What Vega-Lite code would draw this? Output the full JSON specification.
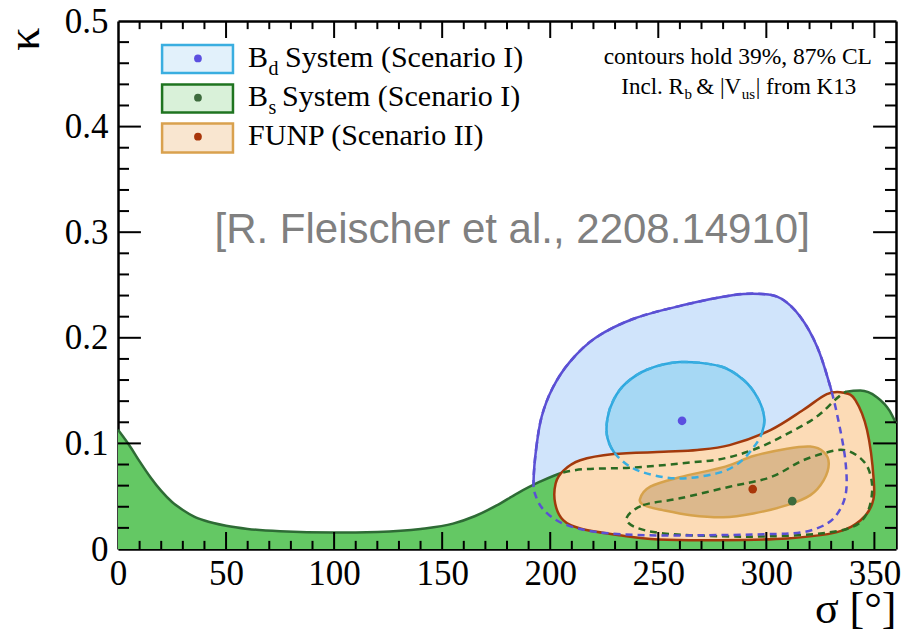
{
  "$schema": "https://vega.github.io/schema/vega-lite/v6.json",
  "width": 778,
  "height": 528,
  "autosize": "none",
  "padding": {"left": 118, "top": 21, "right": 11, "bottom": 85},
  "background": "white",
  "config": {
    "view": {"stroke": null},
    "axis": {"grid": false, "domain": false, "ticks": false, "zindex": 2,
      "labelFont": "Liberation Serif", "labelFontSize": 35, "labelColor": "black",
      "titleFont": "Liberation Serif", "titleFontWeight": "normal", "titleColor": "black",
      "labelFlush": false, "labelOverlap": false}
  },
  "datasets": {
    "contours": [
      {"c": "bo", "o": 1, "s": 192.3, "k": 0.065}, {"c": "bo", "o": 2, "s": 193.5, "k": 0.095},
      {"c": "bo", "o": 3, "s": 196, "k": 0.125}, {"c": "bo", "o": 4, "s": 201, "k": 0.152},
      {"c": "bo", "o": 5, "s": 209, "k": 0.177}, {"c": "bo", "o": 6, "s": 221, "k": 0.2},
      {"c": "bo", "o": 7, "s": 238.6, "k": 0.218}, {"c": "bo", "o": 8, "s": 261.7, "k": 0.231},
      {"c": "bo", "o": 9, "s": 284.9, "k": 0.2405}, {"c": "bo", "o": 10, "s": 298, "k": 0.2415},
      {"c": "bo", "o": 11, "s": 307, "k": 0.237}, {"c": "bo", "o": 12, "s": 315.7, "k": 0.22},
      {"c": "bo", "o": 13, "s": 323.5, "k": 0.1916}, {"c": "bo", "o": 14, "s": 329.6, "k": 0.1537},
      {"c": "bo", "o": 15, "s": 333.5, "k": 0.12}, {"c": "bo", "o": 16, "s": 336.5, "k": 0.085},
      {"c": "bo", "o": 17, "s": 337, "k": 0.056}, {"c": "bo", "o": 18, "s": 334, "k": 0.037},
      {"c": "bo", "o": 19, "s": 328, "k": 0.024}, {"c": "bo", "o": 20, "s": 317, "k": 0.016},
      {"c": "bo", "o": 21, "s": 300, "k": 0.014}, {"c": "bo", "o": 22, "s": 270, "k": 0.013},
      {"c": "bo", "o": 23, "s": 245, "k": 0.013}, {"c": "bo", "o": 24, "s": 221.6, "k": 0.016},
      {"c": "bo", "o": 25, "s": 206, "k": 0.024}, {"c": "bo", "o": 26, "s": 197, "k": 0.037},
      {"c": "bo", "o": 27, "s": 193, "k": 0.052},
      {"c": "bi", "o": 1, "s": 260, "k": 0.177}, {"c": "bi", "o": 2, "s": 278.7, "k": 0.173},
      {"c": "bi", "o": 3, "s": 289.5, "k": 0.16}, {"c": "bi", "o": 4, "s": 296, "k": 0.143},
      {"c": "bi", "o": 5, "s": 299, "k": 0.125}, {"c": "bi", "o": 6, "s": 298, "k": 0.11},
      {"c": "bi", "o": 7, "s": 294, "k": 0.096}, {"c": "bi", "o": 8, "s": 287, "k": 0.081},
      {"c": "bi", "o": 9, "s": 277, "k": 0.0716}, {"c": "bi", "o": 10, "s": 258.6, "k": 0.0668},
      {"c": "bi", "o": 11, "s": 241, "k": 0.074}, {"c": "bi", "o": 12, "s": 231, "k": 0.088},
      {"c": "bi", "o": 13, "s": 226.5, "k": 0.105}, {"c": "bi", "o": 14, "s": 226.5, "k": 0.124},
      {"c": "bi", "o": 15, "s": 229.5, "k": 0.142}, {"c": "bi", "o": 16, "s": 235, "k": 0.157},
      {"c": "bi", "o": 17, "s": 245, "k": 0.17},
      {"c": "oo", "o": 1, "s": 202.5, "k": 0.062}, {"c": "oo", "o": 2, "s": 206, "k": 0.074},
      {"c": "oo", "o": 3, "s": 213.9, "k": 0.084}, {"c": "oo", "o": 4, "s": 229.3, "k": 0.0899},
      {"c": "oo", "o": 5, "s": 252.5, "k": 0.092}, {"c": "oo", "o": 6, "s": 268, "k": 0.0937},
      {"c": "oo", "o": 7, "s": 283, "k": 0.0984}, {"c": "oo", "o": 8, "s": 301.9, "k": 0.1126},
      {"c": "oo", "o": 9, "s": 317, "k": 0.1316}, {"c": "oo", "o": 10, "s": 328, "k": 0.1467},
      {"c": "oo", "o": 11, "s": 335.8, "k": 0.148}, {"c": "oo", "o": 12, "s": 341.2, "k": 0.141},
      {"c": "oo", "o": 13, "s": 346.6, "k": 0.1126}, {"c": "oo", "o": 14, "s": 349.7, "k": 0.065},
      {"c": "oo", "o": 15, "s": 349, "k": 0.043}, {"c": "oo", "o": 16, "s": 343.5, "k": 0.027},
      {"c": "oo", "o": 17, "s": 332.7, "k": 0.016}, {"c": "oo", "o": 18, "s": 309.6, "k": 0.01},
      {"c": "oo", "o": 19, "s": 278.7, "k": 0.0083}, {"c": "oo", "o": 20, "s": 250, "k": 0.009},
      {"c": "oo", "o": 21, "s": 232, "k": 0.013}, {"c": "oo", "o": 22, "s": 213.9, "k": 0.0194},
      {"c": "oo", "o": 23, "s": 206, "k": 0.0273}, {"c": "oo", "o": 24, "s": 202.3, "k": 0.043},
      {"c": "oi", "o": 1, "s": 241.5, "k": 0.047}, {"c": "oi", "o": 2, "s": 246.3, "k": 0.059},
      {"c": "oi", "o": 3, "s": 260, "k": 0.068}, {"c": "oi", "o": 4, "s": 281, "k": 0.078},
      {"c": "oi", "o": 5, "s": 294, "k": 0.088}, {"c": "oi", "o": 6, "s": 309.6, "k": 0.095},
      {"c": "oi", "o": 7, "s": 320.4, "k": 0.097}, {"c": "oi", "o": 8, "s": 326.5, "k": 0.092},
      {"c": "oi", "o": 9, "s": 328.9, "k": 0.081}, {"c": "oi", "o": 10, "s": 326.5, "k": 0.065},
      {"c": "oi", "o": 11, "s": 320.4, "k": 0.051}, {"c": "oi", "o": 12, "s": 309.6, "k": 0.0415},
      {"c": "oi", "o": 13, "s": 294, "k": 0.0336}, {"c": "oi", "o": 14, "s": 280, "k": 0.03},
      {"c": "oi", "o": 15, "s": 265, "k": 0.032}, {"c": "oi", "o": 16, "s": 252, "k": 0.0368},
      {"c": "oi", "o": 17, "s": 244, "k": 0.041},
      {"c": "gi", "o": 1, "s": 235.5, "k": 0.03}, {"c": "gi", "o": 2, "s": 243, "k": 0.0415},
      {"c": "gi", "o": 3, "s": 260, "k": 0.048}, {"c": "gi", "o": 4, "s": 283, "k": 0.059},
      {"c": "gi", "o": 5, "s": 302, "k": 0.068}, {"c": "gi", "o": 6, "s": 317, "k": 0.084},
      {"c": "gi", "o": 7, "s": 331, "k": 0.093}, {"c": "gi", "o": 8, "s": 337.5, "k": 0.093},
      {"c": "gi", "o": 9, "s": 343.5, "k": 0.086}, {"c": "gi", "o": 10, "s": 347.4, "k": 0.075},
      {"c": "gi", "o": 11, "s": 349, "k": 0.056}, {"c": "gi", "o": 12, "s": 346.6, "k": 0.034},
      {"c": "gi", "o": 13, "s": 340, "k": 0.021}, {"c": "gi", "o": 14, "s": 325, "k": 0.0147},
      {"c": "gi", "o": 15, "s": 302, "k": 0.012}, {"c": "gi", "o": 16, "s": 279, "k": 0.012},
      {"c": "gi", "o": 17, "s": 252.5, "k": 0.0147}, {"c": "gi", "o": 18, "s": 239, "k": 0.021}
    ],
    "green": [
      {"s": 0, "k": 0.113}, {"s": 5, "k": 0.099}, {"s": 10, "k": 0.083}, {"s": 15, "k": 0.068},
      {"s": 20, "k": 0.055}, {"s": 25, "k": 0.0445}, {"s": 30, "k": 0.037}, {"s": 35, "k": 0.031},
      {"s": 40, "k": 0.027}, {"s": 50, "k": 0.022}, {"s": 60, "k": 0.019}, {"s": 75, "k": 0.0168},
      {"s": 100, "k": 0.0156}, {"s": 120, "k": 0.0162}, {"s": 140, "k": 0.019}, {"s": 155, "k": 0.024},
      {"s": 165, "k": 0.031}, {"s": 175, "k": 0.041}, {"s": 185, "k": 0.053}, {"s": 195, "k": 0.0635},
      {"s": 206, "k": 0.0725}, {"s": 215, "k": 0.0755}, {"s": 237, "k": 0.077}, {"s": 260, "k": 0.081},
      {"s": 283, "k": 0.087}, {"s": 294, "k": 0.094}, {"s": 309.6, "k": 0.109}, {"s": 325, "k": 0.128},
      {"s": 334, "k": 0.145}, {"s": 337, "k": 0.149}, {"s": 343.5, "k": 0.15}, {"s": 351, "k": 0.144},
      {"s": 357, "k": 0.131}, {"s": 360, "k": 0.119}
    ],
    "best": [
      {"sys": "Bd", "s": 261, "k": 0.1214},
      {"sys": "FUNP", "s": 293.7, "k": 0.0567},
      {"sys": "Bs", "s": 312, "k": 0.0453}
    ],
    "xmajor": [{"v": 50}, {"v": 100}, {"v": 150}, {"v": 200}, {"v": 250}, {"v": 300}, {"v": 350}],
    "xminor": [{"v": 10}, {"v": 20}, {"v": 30}, {"v": 40}, {"v": 60}, {"v": 70}, {"v": 80}, {"v": 90},
      {"v": 110}, {"v": 120}, {"v": 130}, {"v": 140}, {"v": 160}, {"v": 170}, {"v": 180}, {"v": 190},
      {"v": 210}, {"v": 220}, {"v": 230}, {"v": 240}, {"v": 260}, {"v": 270}, {"v": 280}, {"v": 290},
      {"v": 310}, {"v": 320}, {"v": 330}, {"v": 340}],
    "ymajor": [{"v": 0.1}, {"v": 0.2}, {"v": 0.3}, {"v": 0.4}],
    "yminor": [{"v": 0.02}, {"v": 0.04}, {"v": 0.06}, {"v": 0.08}, {"v": 0.12}, {"v": 0.14}, {"v": 0.16}, {"v": 0.18},
      {"v": 0.22}, {"v": 0.24}, {"v": 0.26}, {"v": 0.28}, {"v": 0.32}, {"v": 0.34}, {"v": 0.36}, {"v": 0.38},
      {"v": 0.42}, {"v": 0.44}, {"v": 0.46}, {"v": 0.48}]
  },
  "resolve": {"axis": {"x": "independent", "y": "independent"}},
  "layer": [
    {
      "data": {"name": "contours"},
      "transform": [{"filter": "datum.c == 'bo'"}],
      "mark": {"type": "line", "interpolate": "cardinal-closed", "fill": "#d0e4fb", "stroke": "#5b50d4", "strokeWidth": 2.5},
      "encoding": {
        "x": {"field": "s", "type": "quantitative", "scale": {"domain": [0, 360], "nice": false, "zero": false},
          "axis": {"orient": "bottom", "values": [0, 50, 100, 150, 200, 250, 300, 350], "labelPadding": 7,
            "labelFont": "Liberation Serif", "labelFontSize": 35,
            "title": "σ [°]", "titleFont": "Liberation Serif", "titleFontSize": 44, "titleAlign": "right", "titleAnchor": "end",
            "titleBaseline": "alphabetic", "titleX": 778, "titleY": 73}},
        "y": {"field": "k", "type": "quantitative", "scale": {"domain": [0, 0.5], "nice": false, "zero": false},
          "axis": {"orient": "left", "values": [0, 0.1, 0.2, 0.3, 0.4, 0.5], "labelPadding": 10,
            "labelFont": "Liberation Serif", "labelFontSize": 35,
            "labelExpr": "datum.value == 0 ? '0' : format(datum.value, '.1f')",
            "title": "κ", "titleFont": "Liberation Serif", "titleFontSize": 46, "titleAngle": 270, "titleAlign": "right",
            "titleAnchor": "end", "titleBaseline": "alphabetic", "titleX": -80, "titleY": 6}},
        "order": {"field": "o", "type": "quantitative"}
      }
    },
    {
      "data": {"name": "contours"},
      "transform": [{"filter": "datum.c == 'bi'"}],
      "mark": {"type": "line", "interpolate": "cardinal-closed", "fill": "#a6d8f4", "stroke": "#2ea8df", "strokeWidth": 2.5},
      "encoding": {
        "x": {"field": "s", "type": "quantitative", "axis": null},
        "y": {"field": "k", "type": "quantitative", "axis": null},
        "order": {"field": "o", "type": "quantitative"}
      }
    },
    {
      "data": {"name": "green"},
      "mark": {"type": "area", "interpolate": "monotone", "fill": "#64c864"},
      "encoding": {
        "x": {"field": "s", "type": "quantitative", "axis": null},
        "y": {"field": "k", "type": "quantitative", "axis": null},
        "y2": {"datum": 0}
      }
    },
    {
      "data": {"name": "green"},
      "mark": {"type": "line", "interpolate": "monotone", "stroke": "#2e6b35", "strokeWidth": 2.5},
      "encoding": {
        "x": {"field": "s", "type": "quantitative", "axis": null},
        "y": {"field": "k", "type": "quantitative", "axis": null}
      }
    },
    {
      "data": {"name": "contours"},
      "transform": [{"filter": "datum.c == 'oo'"}],
      "mark": {"type": "line", "interpolate": "cardinal-closed", "fill": "#fcdbb6", "stroke": "#a2390c", "strokeWidth": 2.5},
      "encoding": {
        "x": {"field": "s", "type": "quantitative",
          "axis": {"orient": "bottom", "labels": false, "title": null, "domain": true, "domainColor": "black", "domainWidth": 2.5}},
        "y": {"field": "k", "type": "quantitative",
          "axis": {"orient": "left", "labels": false, "title": null, "domain": true, "domainColor": "black", "domainWidth": 2.5}},
        "order": {"field": "o", "type": "quantitative"}
      }
    },
    {
      "data": {"name": "contours"},
      "transform": [{"filter": "datum.c == 'oi'"}],
      "mark": {"type": "line", "interpolate": "cardinal-closed", "fill": "#dcb88c", "stroke": "#d6a24c", "strokeWidth": 2.5},
      "encoding": {
        "x": {"field": "s", "type": "quantitative",
          "axis": {"orient": "top", "labels": false, "title": null, "domain": true, "domainColor": "black", "domainWidth": 2.5}},
        "y": {"field": "k", "type": "quantitative",
          "axis": {"orient": "right", "labels": false, "title": null, "domain": true, "domainColor": "black", "domainWidth": 2.5}},
        "order": {"field": "o", "type": "quantitative"}
      }
    },
    {
      "data": {"name": "green"},
      "transform": [{"filter": "datum.s >= 200 && datum.s <= 340"}],
      "mark": {"type": "line", "interpolate": "monotone", "stroke": "#2b6b22", "strokeWidth": 2.5, "strokeDash": [7, 5]},
      "encoding": {
        "x": {"field": "s", "type": "quantitative", "axis": null},
        "y": {"field": "k", "type": "quantitative", "axis": null}
      }
    },
    {
      "data": {"name": "contours"},
      "transform": [{"filter": "datum.c == 'gi'"}],
      "mark": {"type": "line", "interpolate": "cardinal-closed", "stroke": "#2b6b22", "strokeWidth": 2.5, "strokeDash": [7, 5]},
      "encoding": {
        "x": {"field": "s", "type": "quantitative", "axis": null},
        "y": {"field": "k", "type": "quantitative", "axis": null},
        "order": {"field": "o", "type": "quantitative"}
      }
    },
    {
      "data": {"name": "contours"},
      "transform": [{"filter": "datum.c == 'bo'"}],
      "mark": {"type": "line", "interpolate": "cardinal-closed", "stroke": "#5b50d4", "strokeWidth": 2.5, "strokeDash": [7, 5]},
      "encoding": {
        "x": {"field": "s", "type": "quantitative", "axis": null},
        "y": {"field": "k", "type": "quantitative", "axis": null},
        "order": {"field": "o", "type": "quantitative"}
      }
    },
    {
      "data": {"name": "contours"},
      "transform": [{"filter": "datum.c == 'bi'"}],
      "mark": {"type": "line", "interpolate": "cardinal-closed", "stroke": "#3aaee0", "strokeWidth": 2.5, "strokeDash": [7, 5]},
      "encoding": {
        "x": {"field": "s", "type": "quantitative", "axis": null},
        "y": {"field": "k", "type": "quantitative", "axis": null},
        "order": {"field": "o", "type": "quantitative"}
      }
    },
    {
      "data": {"name": "best"},
      "mark": {"type": "point", "filled": true, "size": 75, "opacity": 1},
      "encoding": {
        "x": {"field": "s", "type": "quantitative", "axis": null},
        "y": {"field": "k", "type": "quantitative", "axis": null},
        "color": {"field": "sys", "type": "nominal", "legend": null,
          "scale": {"domain": ["Bd", "Bs", "FUNP"], "range": ["#5b4fe0", "#3d6b3d", "#a8360a"]}}
      }
    },
    {
      "data": {"name": "xmajor"},
      "mark": {"type": "rule", "color": "black", "strokeWidth": 2},
      "encoding": {"x": {"field": "v", "type": "quantitative", "axis": null}, "y": {"datum": 0, "type": "quantitative", "axis": null}, "y2": {"datum": 0.0161}}
    },
    {
      "data": {"name": "xmajor"},
      "mark": {"type": "rule", "color": "black", "strokeWidth": 2},
      "encoding": {"x": {"field": "v", "type": "quantitative", "axis": null}, "y": {"datum": 0.5, "type": "quantitative", "axis": null}, "y2": {"datum": 0.4839}}
    },
    {
      "data": {"name": "xminor"},
      "mark": {"type": "rule", "color": "black", "strokeWidth": 2},
      "encoding": {"x": {"field": "v", "type": "quantitative", "axis": null}, "y": {"datum": 0, "type": "quantitative", "axis": null}, "y2": {"datum": 0.0077}}
    },
    {
      "data": {"name": "xminor"},
      "mark": {"type": "rule", "color": "black", "strokeWidth": 2},
      "encoding": {"x": {"field": "v", "type": "quantitative", "axis": null}, "y": {"datum": 0.5, "type": "quantitative", "axis": null}, "y2": {"datum": 0.4923}}
    },
    {
      "data": {"name": "ymajor"},
      "mark": {"type": "rule", "color": "black", "strokeWidth": 2},
      "encoding": {"y": {"field": "v", "type": "quantitative", "axis": null}, "x": {"datum": 0, "type": "quantitative", "axis": null}, "x2": {"datum": 10.6}}
    },
    {
      "data": {"name": "ymajor"},
      "mark": {"type": "rule", "color": "black", "strokeWidth": 2},
      "encoding": {"y": {"field": "v", "type": "quantitative", "axis": null}, "x": {"datum": 360, "type": "quantitative", "axis": null}, "x2": {"datum": 349.4}}
    },
    {
      "data": {"name": "yminor"},
      "mark": {"type": "rule", "color": "black", "strokeWidth": 2},
      "encoding": {"y": {"field": "v", "type": "quantitative", "axis": null}, "x": {"datum": 0, "type": "quantitative", "axis": null}, "x2": {"datum": 5.1}}
    },
    {
      "data": {"name": "yminor"},
      "mark": {"type": "rule", "color": "black", "strokeWidth": 2},
      "encoding": {"y": {"field": "v", "type": "quantitative", "axis": null}, "x": {"datum": 360, "type": "quantitative", "axis": null}, "x2": {"datum": 354.9}}
    },
    {
      "data": {"values": [{}]},
      "mark": {"type": "rect", "fill": "#e2f1fb", "stroke": "#3aaee0", "strokeWidth": 2.5},
      "encoding": {
        "x": {"datum": 20.4, "type": "quantitative", "axis": null}, "x2": {"datum": 53.2},
        "y": {"datum": 0.4773, "type": "quantitative", "axis": null}, "y2": {"datum": 0.4508}
      }
    },
    {
      "data": {"values": [{}]},
      "mark": {"type": "rect", "fill": "#d9f1d9", "stroke": "#1f7420", "strokeWidth": 2.5},
      "encoding": {
        "x": {"datum": 20.4, "type": "quantitative", "axis": null}, "x2": {"datum": 53.2},
        "y": {"datum": 0.4399, "type": "quantitative", "axis": null}, "y2": {"datum": 0.4134}
      }
    },
    {
      "data": {"values": [{}]},
      "mark": {"type": "rect", "fill": "#f9e6d0", "stroke": "#d9a14e", "strokeWidth": 2.5},
      "encoding": {
        "x": {"datum": 20.4, "type": "quantitative", "axis": null}, "x2": {"datum": 53.2},
        "y": {"datum": 0.403, "type": "quantitative", "axis": null}, "y2": {"datum": 0.3755}
      }
    },
    {
      "data": {"values": [{}]},
      "mark": {"type": "circle", "size": 60, "color": "#5b4fe0", "opacity": 1},
      "encoding": {"x": {"datum": 37.0, "type": "quantitative", "axis": null}, "y": {"datum": 0.4645, "type": "quantitative", "axis": null}}
    },
    {
      "data": {"values": [{}]},
      "mark": {"type": "circle", "size": 60, "color": "#3d6b3d", "opacity": 1},
      "encoding": {"x": {"datum": 37.0, "type": "quantitative", "axis": null}, "y": {"datum": 0.4274, "type": "quantitative", "axis": null}}
    },
    {
      "data": {"values": [{}]},
      "mark": {"type": "circle", "size": 60, "color": "#a8360a", "opacity": 1},
      "encoding": {"x": {"datum": 37.0, "type": "quantitative", "axis": null}, "y": {"datum": 0.3904, "type": "quantitative", "axis": null}}
    },
    {
      "data": {"values": [{}]},
      "mark": {"type": "text", "font": "Liberation Serif", "fontSize": 30, "align": "left", "baseline": "alphabetic", "color": "black"},
      "encoding": {"x": {"datum": 60.2, "type": "quantitative", "axis": null}, "y": {"datum": 0.4565, "type": "quantitative", "axis": null}, "text": {"value": "B"}}
    },
    {
      "data": {"values": [{}]},
      "mark": {"type": "text", "font": "Liberation Serif", "fontSize": 20, "align": "left", "baseline": "alphabetic", "color": "black"},
      "encoding": {"x": {"datum": 69.6, "type": "quantitative", "axis": null}, "y": {"datum": 0.4488, "type": "quantitative", "axis": null}, "text": {"value": "d"}}
    },
    {
      "data": {"values": [{}]},
      "mark": {"type": "text", "font": "Liberation Serif", "fontSize": 30, "align": "left", "baseline": "alphabetic", "color": "black"},
      "encoding": {"x": {"datum": 77.3, "type": "quantitative", "axis": null}, "y": {"datum": 0.4565, "type": "quantitative", "axis": null}, "text": {"value": "System (Scenario I)"}}
    },
    {
      "data": {"values": [{}]},
      "mark": {"type": "text", "font": "Liberation Serif", "fontSize": 30, "align": "left", "baseline": "alphabetic", "color": "black"},
      "encoding": {"x": {"datum": 60.2, "type": "quantitative", "axis": null}, "y": {"datum": 0.4192, "type": "quantitative", "axis": null}, "text": {"value": "B"}}
    },
    {
      "data": {"values": [{}]},
      "mark": {"type": "text", "font": "Liberation Serif", "fontSize": 20, "align": "left", "baseline": "alphabetic", "color": "black"},
      "encoding": {"x": {"datum": 69.6, "type": "quantitative", "axis": null}, "y": {"datum": 0.4118, "type": "quantitative", "axis": null}, "text": {"value": "s"}}
    },
    {
      "data": {"values": [{}]},
      "mark": {"type": "text", "font": "Liberation Serif", "fontSize": 30, "align": "left", "baseline": "alphabetic", "color": "black"},
      "encoding": {"x": {"datum": 75.9, "type": "quantitative", "axis": null}, "y": {"datum": 0.4192, "type": "quantitative", "axis": null}, "text": {"value": "System (Scenario I)"}}
    },
    {
      "data": {"values": [{}]},
      "mark": {"type": "text", "font": "Liberation Serif", "fontSize": 30, "align": "left", "baseline": "alphabetic", "color": "black"},
      "encoding": {"x": {"datum": 60.2, "type": "quantitative", "axis": null}, "y": {"datum": 0.3823, "type": "quantitative", "axis": null}, "text": {"value": "FUNP (Scenario II)"}}
    },
    {
      "data": {"values": [{}]},
      "mark": {"type": "text", "font": "Liberation Serif", "fontSize": 23.5, "align": "center", "baseline": "alphabetic", "color": "black"},
      "encoding": {"x": {"datum": 286.8, "type": "quantitative", "axis": null}, "y": {"datum": 0.4593, "type": "quantitative", "axis": null}, "text": {"value": "contours hold 39%, 87% CL"}}
    },
    {
      "data": {"values": [{}]},
      "mark": {"type": "text", "font": "Liberation Serif", "fontSize": 23, "align": "left", "baseline": "alphabetic", "color": "black"},
      "encoding": {"x": {"datum": 232.9, "type": "quantitative", "axis": null}, "y": {"datum": 0.4309, "type": "quantitative", "axis": null}, "text": {"value": "Incl. R"}}
    },
    {
      "data": {"values": [{}]},
      "mark": {"type": "text", "font": "Liberation Serif", "fontSize": 15, "align": "left", "baseline": "alphabetic", "color": "black"},
      "encoding": {"x": {"datum": 262.1, "type": "quantitative", "axis": null}, "y": {"datum": 0.4262, "type": "quantitative", "axis": null}, "text": {"value": "b"}}
    },
    {
      "data": {"values": [{}]},
      "mark": {"type": "text", "font": "Liberation Serif", "fontSize": 23, "align": "left", "baseline": "alphabetic", "color": "black"},
      "encoding": {"x": {"datum": 267.6, "type": "quantitative", "axis": null}, "y": {"datum": 0.4309, "type": "quantitative", "axis": null}, "text": {"value": "& |V"}}
    },
    {
      "data": {"values": [{}]},
      "mark": {"type": "text", "font": "Liberation Serif", "fontSize": 15, "align": "left", "baseline": "alphabetic", "color": "black"},
      "encoding": {"x": {"datum": 288.6, "type": "quantitative", "axis": null}, "y": {"datum": 0.4262, "type": "quantitative", "axis": null}, "text": {"value": "us"}}
    },
    {
      "data": {"values": [{}]},
      "mark": {"type": "text", "font": "Liberation Serif", "fontSize": 23, "align": "left", "baseline": "alphabetic", "color": "black"},
      "encoding": {"x": {"datum": 295.1, "type": "quantitative", "axis": null}, "y": {"datum": 0.4309, "type": "quantitative", "axis": null}, "text": {"value": "| from K13"}}
    },
    {
      "data": {"values": [{}]},
      "mark": {"type": "text", "font": "Liberation Sans", "fontSize": 42, "align": "center", "baseline": "alphabetic", "color": "#808080"},
      "encoding": {"x": {"datum": 182.4, "type": "quantitative", "axis": null}, "y": {"datum": 0.2897, "type": "quantitative", "axis": null}, "text": {"value": "[R. Fleischer et al., 2208.14910]"}}
    }
  ]
}
